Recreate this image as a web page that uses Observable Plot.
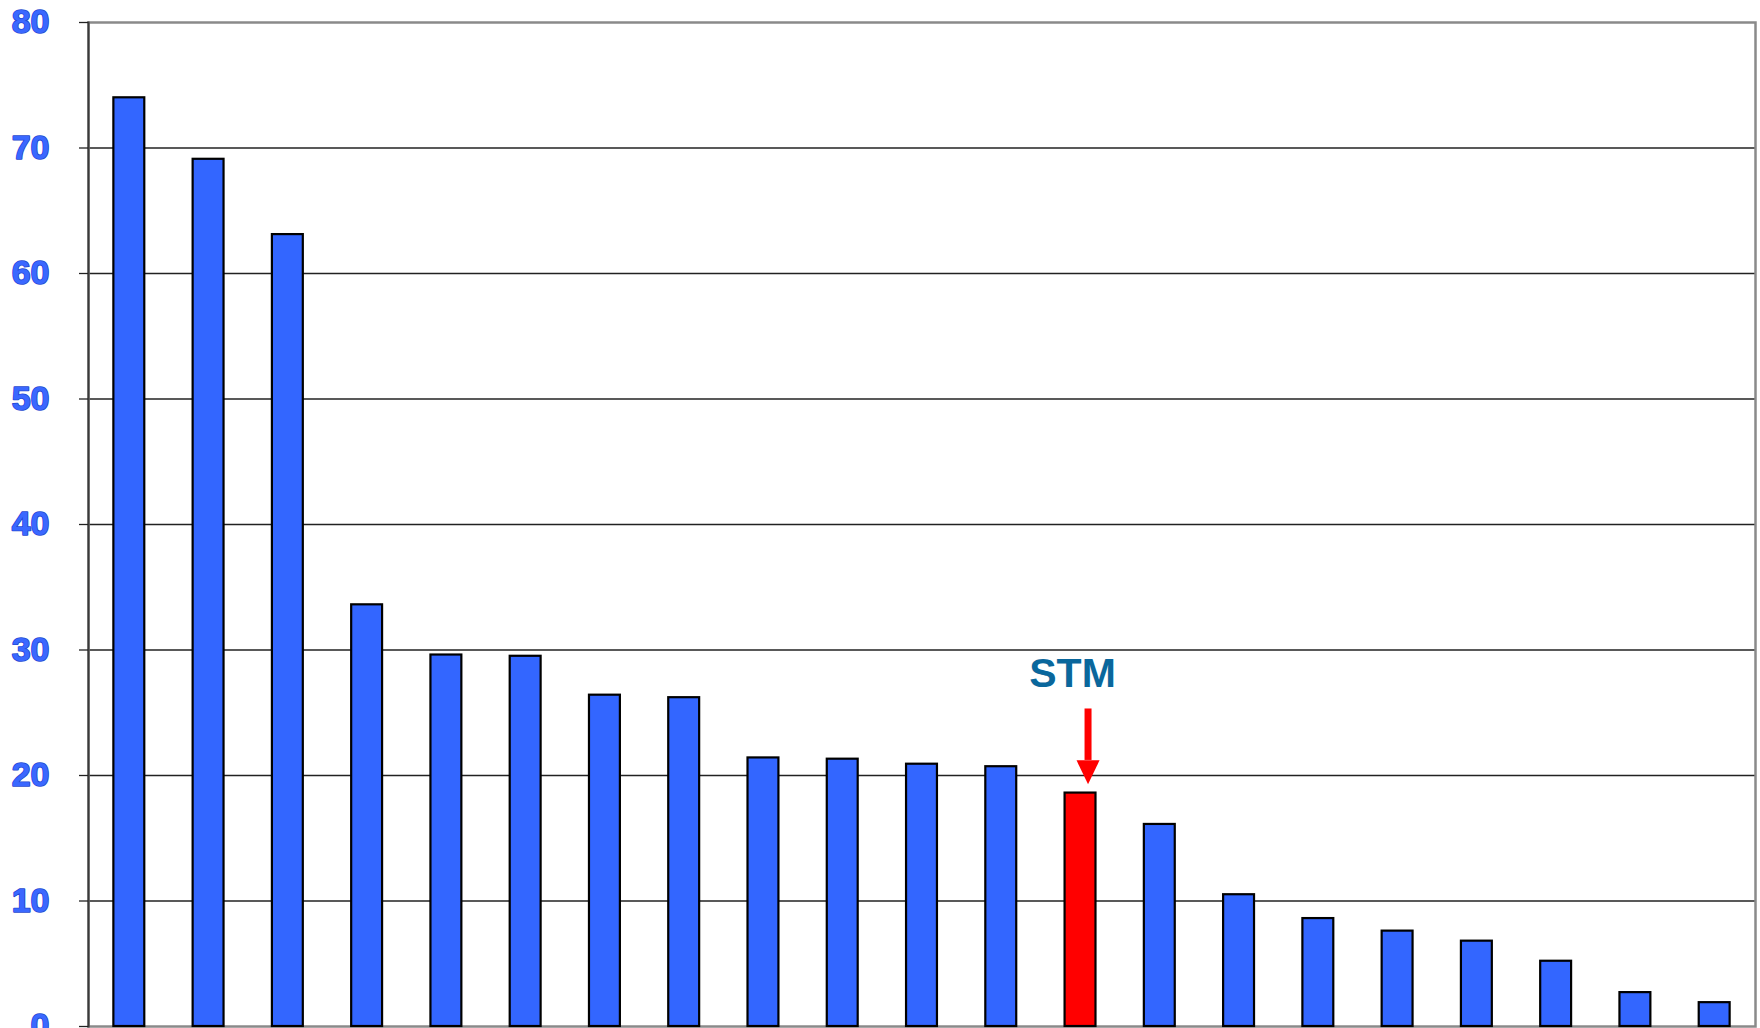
<!DOCTYPE html>
<html>
<head>
<meta charset="utf-8">
<script src="https://cdn.jsdelivr.net/npm/d3@7"></script>
<script src="https://cdn.jsdelivr.net/npm/@observablehq/plot@0.6"></script>
<style>
  html, body { margin: 0; padding: 0; background: #fff; overflow: hidden; }
  #chart svg { display: block; }
</style>
</head>
<body>
<div id="chart"></div>
<script>
// Ranked values, highest first; rank 13 is STM
const ranks = d3.range(1, 22).map(String);
const values = [74.0, 69.1, 63.1, 33.6, 29.6, 29.5, 26.4, 26.2, 21.4, 21.3, 20.9, 20.7,
                18.6, 16.1, 10.5, 8.6, 7.6, 6.8, 5.2, 2.7, 1.9];
const highlightRank = "13";
const highlightLabel = "STM";

// Y axis ticks and horizontal grid lines
const yTicks = [0, 10, 20, 30, 40, 50, 60, 70, 80];
const gridLines = [10, 20, 30, 40, 50, 60, 70];

// Annotation arrow pointing at the highlighted bar (y values)
const arrowShaft = [{rank: highlightRank, y1: 25.3, y2: 21.2}];
const arrowHead = [{rank: highlightRank, y: 20.25}];
const labelPos = [{rank: highlightRank, y: 28.1, text: highlightLabel}];

const data = ranks.map((r, i) => ({rank: r, value: values[i]}));

// Filled, downward-pointing arrow head
const headSymbol = {
  draw(context) {
    context.moveTo(-11.5, -12);
    context.lineTo(11.5, -12);
    context.lineTo(0, 12);
    context.closePath();
  }
};

const chart = Plot.plot({
  width: 1760,
  height: 1028,
  marginLeft: 88,
  marginRight: 5,
  marginTop: 22,
  marginBottom: 2,
  style: {fontFamily: "Liberation Sans, Arial, sans-serif", background: "#fff", overflow: "visible"},
  x: {domain: ranks, paddingInner: 0.61, paddingOuter: 0.32, round: false, axis: null},
  y: {domain: [0, 80], axis: null},
  marks: [
    Plot.ruleY(gridLines, {stroke: "#222", strokeWidth: 1.3}),
    Plot.frame({stroke: "#8a8a8a", strokeWidth: 2.5}),
    Plot.frame({anchor: "left", stroke: "#3a3a3a", strokeWidth: 2}),
    Plot.axisY(yTicks, {tickSize: 9, text: null, stroke: "#222", strokeWidth: 1.3}),
    Plot.text(yTicks, {
      y: d => d,
      text: d => String(d),
      frameAnchor: "left",
      textAnchor: "end",
      dx: -39,
      fontSize: 34,
      fontWeight: "bold",
      fill: "#3a68ff",
      stroke: "#2447cf",
      strokeWidth: 1.6,
      paintOrder: "stroke"
    }),
    Plot.barY(data, {
      x: "rank",
      y: "value",
      fill: d => d.rank === highlightRank ? "#ff0000" : "#3366ff",
      stroke: "#000",
      strokeWidth: 2.2
    }),
    Plot.ruleX(arrowShaft, {x: "rank", y1: "y1", y2: "y2", stroke: "#ff0000", strokeWidth: 7, dx: 7.5}),
    Plot.dot(arrowHead, {x: "rank", y: "y", symbol: headSymbol, fill: "#ff0000", stroke: "none", dx: 7.5}),
    Plot.text(labelPos, {
      x: "rank",
      y: "y",
      text: "text",
      dx: -8,
      fontSize: 41,
      fontWeight: "bold",
      fill: "#0a679c"
    })
  ]
});

document.getElementById("chart").appendChild(chart);
</script>
</body>
</html>
